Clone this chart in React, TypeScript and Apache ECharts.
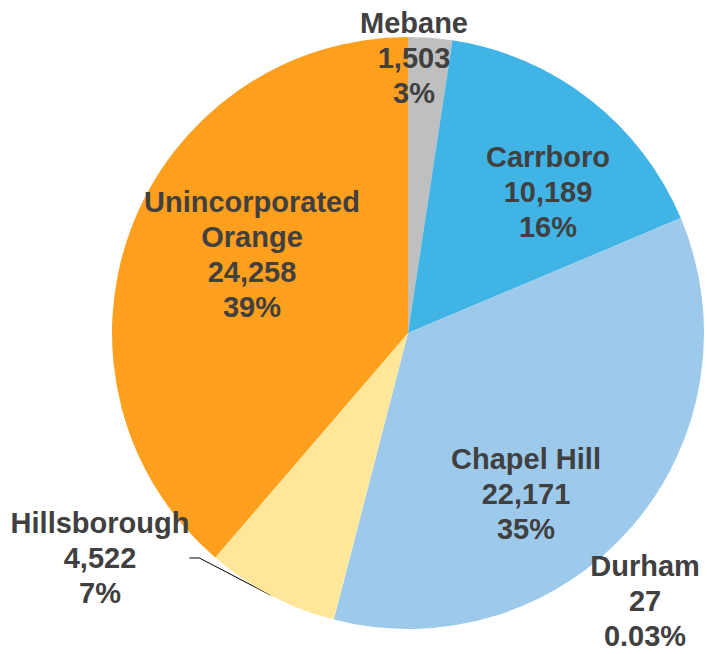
import React, { useEffect, useRef } from "react";
import * as echarts from "echarts";

const categories = ["Mebane", "Carrboro", "Chapel Hill", "Durham", "Hillsborough", "Unincorporated\nOrange"];
const values = [1503, 10189, 22171, 27, 4522, 24258];
const percentLabels = ["3%", "16%", "35%", "0.03%", "7%", "39%"];
const colors = ["#BFBFBF", "#41B4E6", "#9DCAEB", "#FFE699", "#FFE699", "#FF9F1E"];
// label centre positions (text placement only)
const labelPos: [number, number][] = [
  [414, 58],
  [548, 192],
  [526, 494],
  [645, 601],
  [100, 558],
  [252, 254],
];

const fmt = (n: number) => n.toLocaleString("en-US");

export default function App() {
  const ref = useRef<HTMLDivElement>(null);
  useEffect(() => {
    if (!ref.current) return;
    const chart = echarts.init(ref.current, undefined, { renderer: "svg" });
    chart.setOption({
      animation: false,
      backgroundColor: "#ffffff",
      series: [
        {
          type: "pie",
          center: [408, 333],
          radius: 296,
          startAngle: 90,
          clockwise: true,
          avoidLabelOverlap: false,
          data: categories.map((c, i) => ({
            name: c,
            value: values[i],
            itemStyle: { color: colors[i] },
            label: {
              position: i === 3 || i === 4 ? "outside" : "inside",
            },
            labelLine: {
              show: i === 4,
              lineStyle: { color: "#000000", width: 1 },
              length: 10,
              length2: 10,
            },
          })),
          itemStyle: { borderWidth: 0 },
          label: {
            show: true,
            formatter: (p: any) => `${p.name}\n${fmt(p.value)}\n${percentLabels[p.dataIndex]}`,
            fontFamily: "Liberation Sans, Arial, sans-serif",
            fontWeight: "bold",
            fontSize: 29,
            lineHeight: 35,
            color: "#404040",
            align: "center",
          },
          labelLayout: (params: any) => {
            const [x, y] = labelPos[params.dataIndex];
            return { x, y, align: "center", verticalAlign: "middle" };
          },
          emphasis: { disabled: true },
        },
      ],
    });
    return () => chart.dispose();
  }, []);
  return (
    <div
      ref={ref}
      style={{ position: "fixed", left: 0, top: 0, width: 707, height: 654 }}
    />
  );
}
